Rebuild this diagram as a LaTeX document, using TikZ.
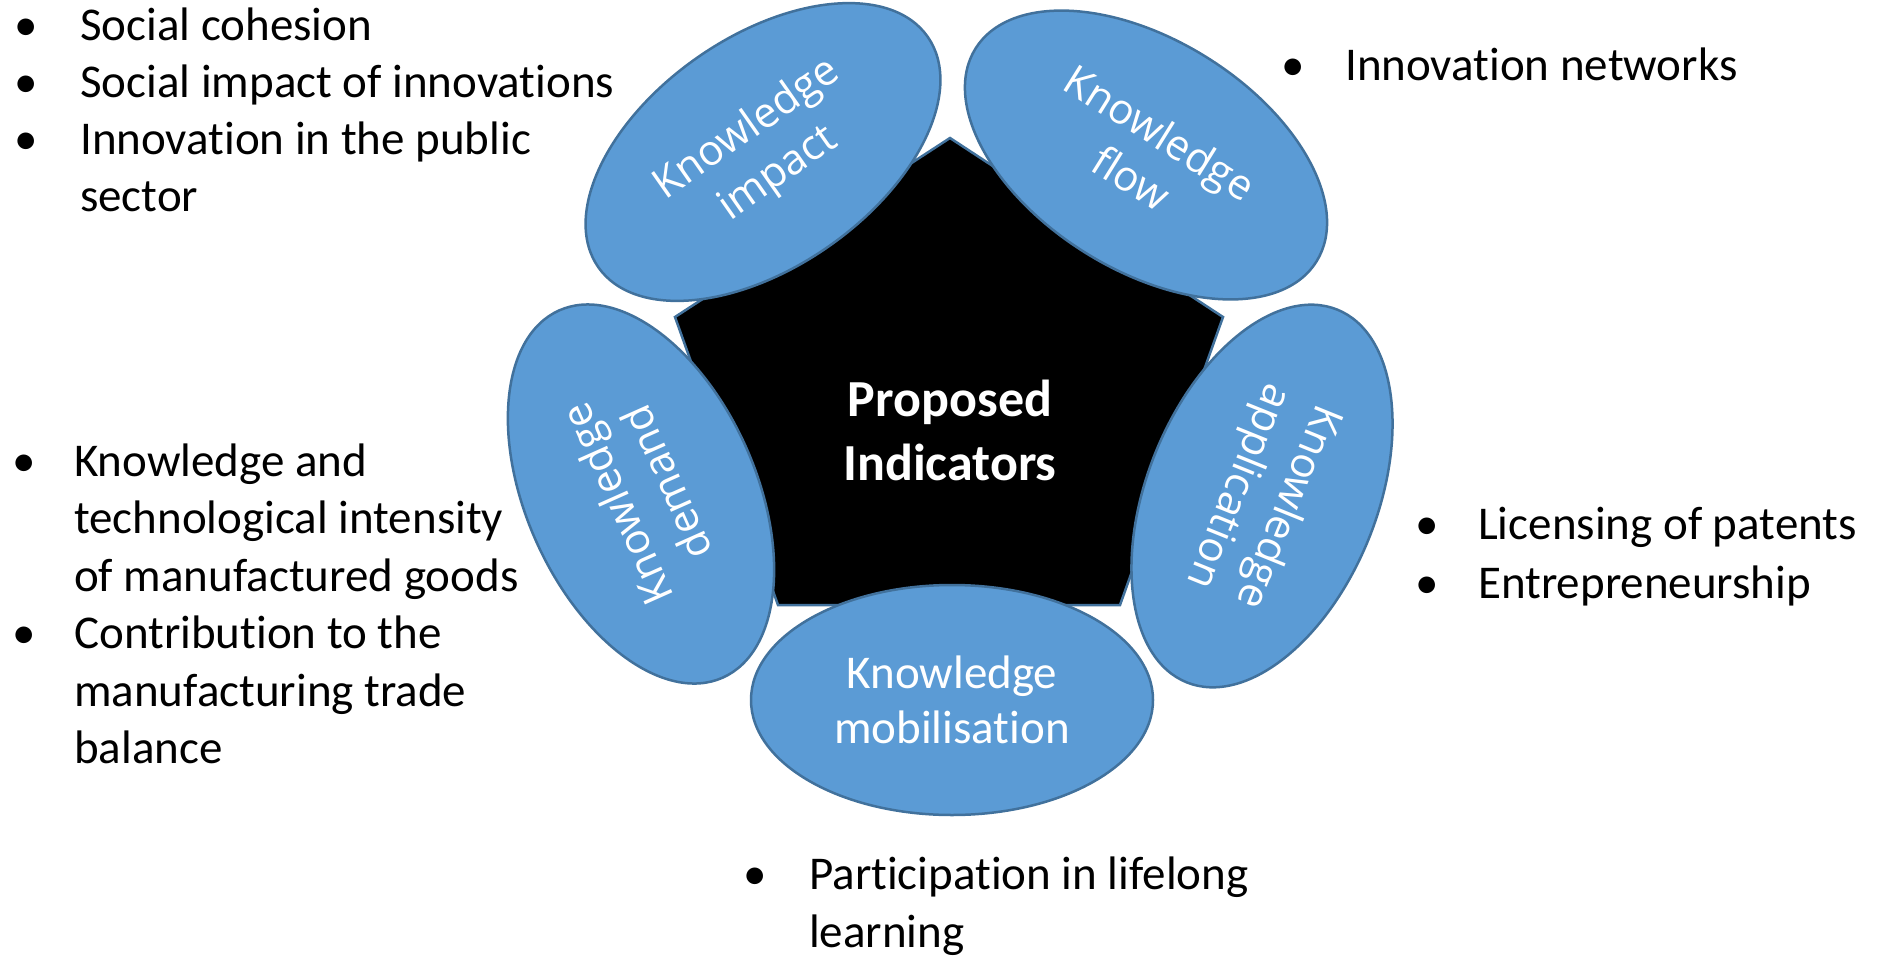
\documentclass[tikz,border=0pt]{standalone}
\usepackage{fontspec}
\setmainfont{Carlito}[RawFeature={-liga;-calt}]
\newfontfamily\petalfont{Open Sans}
\usetikzlibrary{shapes.geometric}
\definecolor{petalblue}{RGB}{91,155,213}
\definecolor{petalline}{RGB}{65,113,156}

\begin{document}
\begin{tikzpicture}[x=1pt, y=-1pt,
    petal/.style={ellipse, draw=petalline, fill=petalblue, line width=2.5pt,
      minimum width=402pt, minimum height=230pt, inner sep=0pt, text=white,
      align=center, font=\petalfont\fontsize{42}{54}\selectfont},
    itemtext/.style={anchor=base west, inner sep=0pt, font=\fontsize{47}{57}\selectfont},
    itemdot/.style={anchor=base, inner sep=0pt, font=\fontsize{47}{57}\selectfont}]
  \useasboundingbox (0,0) rectangle (1880,956);
  \def\ls{57}

  % --- Core pentagon ---
  \coordinate (ptop) at (950,138);
  \coordinate (pleft) at (675,317);
  \coordinate (pright) at (1223,317);
  \coordinate (pbl) at (778,605);
  \coordinate (pbr) at (1120,605);
  \draw[fill=black, draw=petalline, line width=2.5pt, line join=miter]
    (ptop) -- (pright) -- (pbr) -- (pbl) -- (pleft) -- cycle;

  % --- Petals ---
  \node[petal, rotate=35] (impact) at (763,152) {Knowledge\\impact};
  \node[petal, rotate=-32] (flow) at (1146,155) {Knowledge\\flow};
  \node[petal, rotate=114] (demand) at (641,494) {Knowledge\\demand};
  \node[petal, rotate=-112] (application) at (1262,496) {Knowledge\\application};
  \node[petal, font=\fontsize{47}{55}\selectfont] (mobilisation) at (952,700) {Knowledge\\mobilisation};

  \node[text=white, align=center, font=\bfseries\fontsize{52}{64}\selectfont] (core) at (950,430) {Proposed\\Indicators};

  % --- Knowledge impact (top left) ---
  \foreach \txt [count=\i] in {Social cohesion, Social impact of innovations, Innovation in the public, sector}
    \node[itemtext] (imp\i) at (80, {40+\ls*(\i-1)}) {\txt};
  \foreach \i in {1,2,3}
    \node[itemdot] (impdot\i) at (26, {40+\ls*(\i-1)}) {•};

  % --- Knowledge flow (top right) ---
  \node[itemtext] (flow1) at (1345,80) {Innovation networks};
  \node[itemdot] (flowdot1) at (1293,80) {•};

  % --- Knowledge demand (left) ---
  \foreach \txt [count=\i] in {Knowledge and, technological intensity, of manufactured goods,
      Contribution to the, manufacturing trade, balance}
    \node[itemtext] (dem\i) at (74, {476+57.5*(\i-1)}) {\txt};
  \node[itemdot] (demdot1) at (24,476) {•};
  \node[itemdot] (demdot2) at (24,648.5) {•};

  % --- Knowledge application (right) ---
  \node[itemtext] (app1) at (1478,539) {Licensing of patents};
  \node[itemtext] (app2) at (1478,598) {Entrepreneurship};
  \node[itemdot] (appdot1) at (1427,539) {•};
  \node[itemdot] (appdot2) at (1427,598) {•};

  % --- Knowledge mobilisation (bottom) ---
  \node[itemtext] (mob1) at (809,889) {Participation in lifelong};
  \node[itemtext] (mob2) at (809,947) {learning};
  \node[itemdot] (mobdot1) at (755,889) {•};
\end{tikzpicture}
\end{document}
